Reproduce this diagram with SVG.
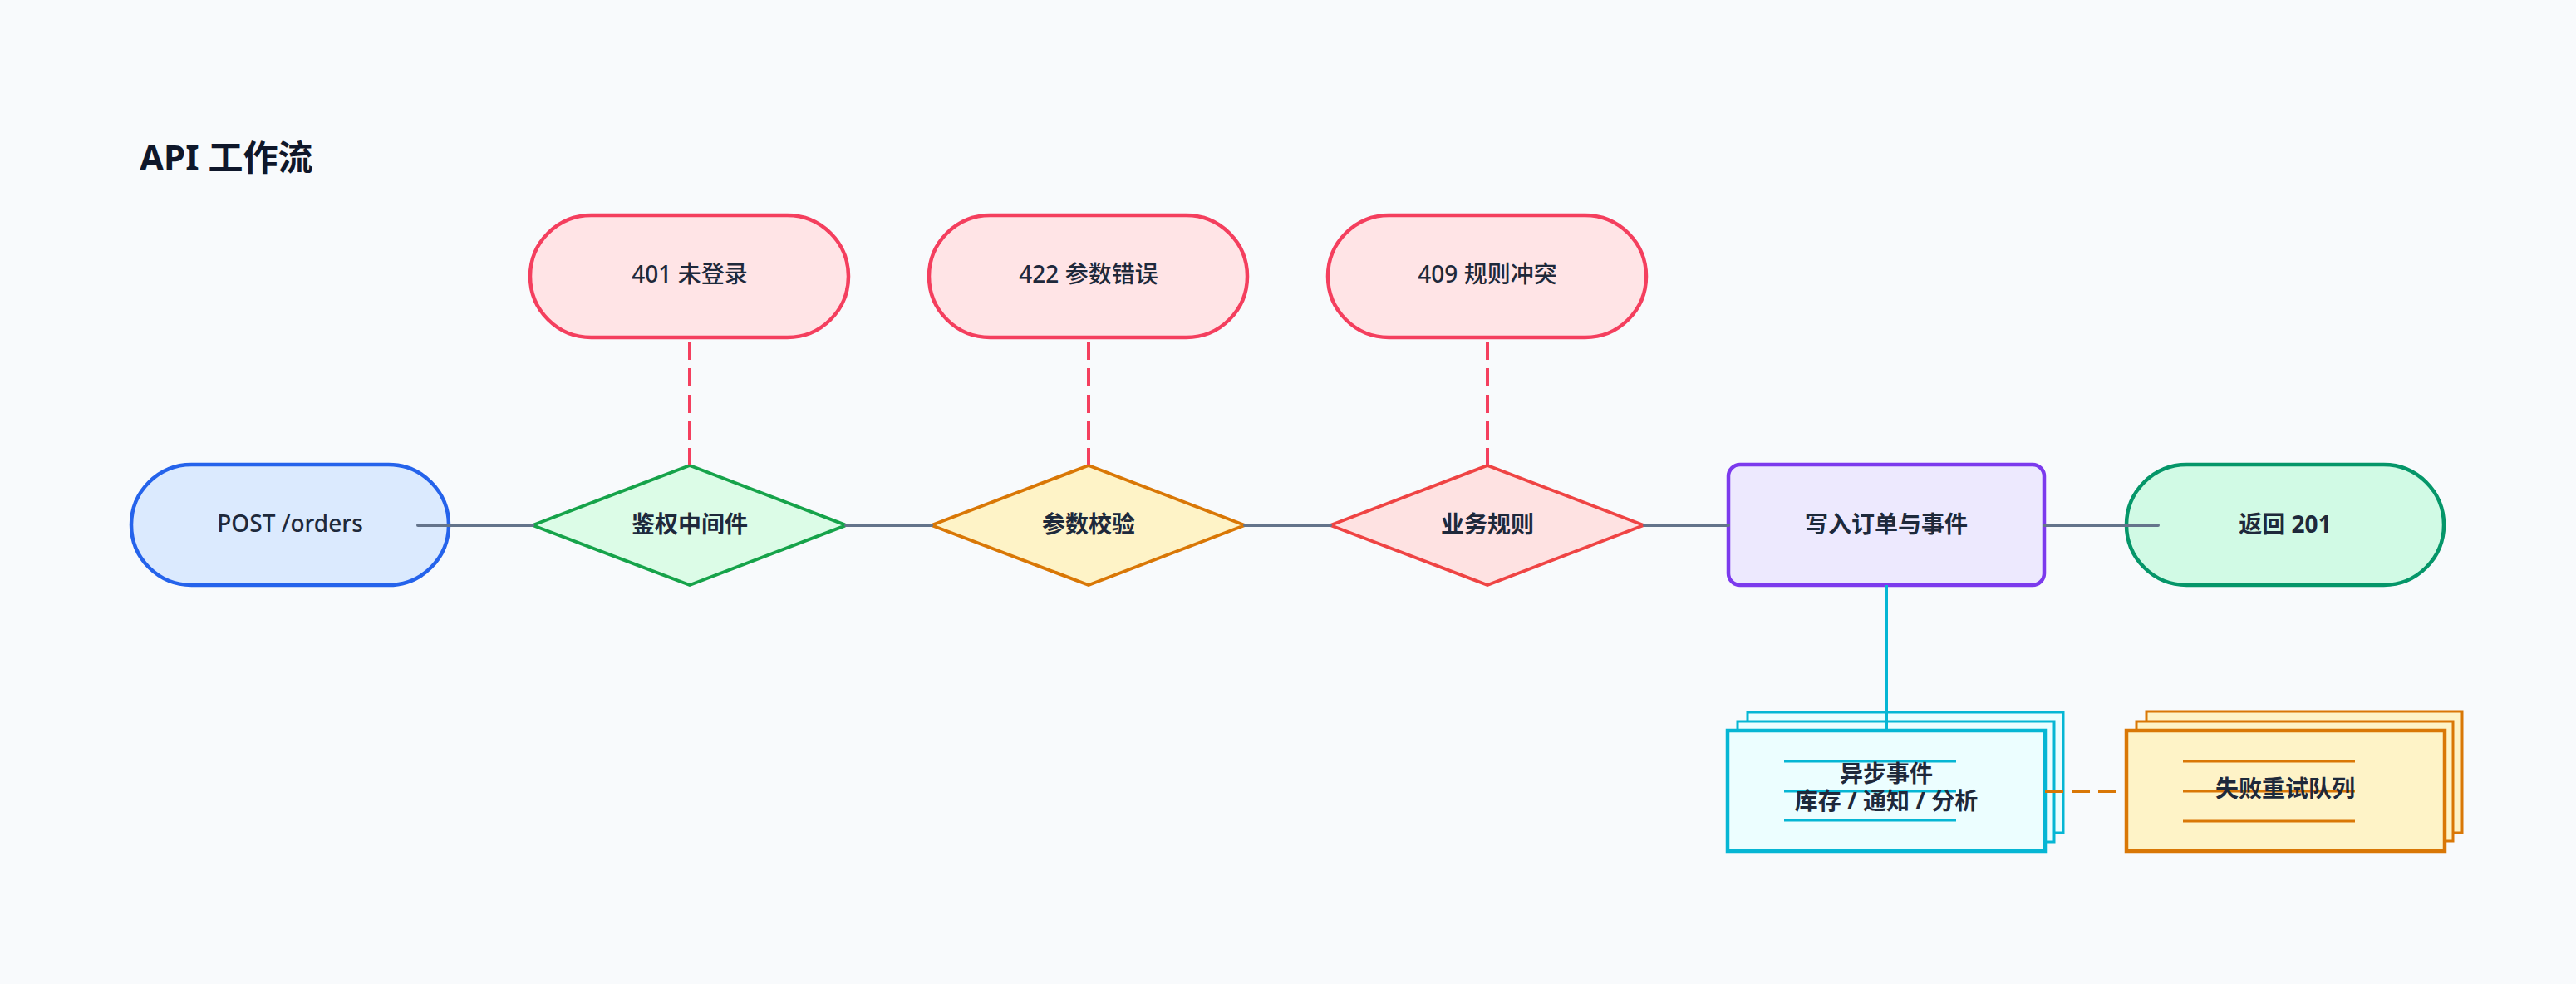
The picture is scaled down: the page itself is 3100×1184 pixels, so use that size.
<svg xmlns="http://www.w3.org/2000/svg" width="3100" height="1184" viewBox="0 0 3100 1184">
<style>
.t{font-family:"Noto Sans","Noto Sans CJK SC",sans-serif;fill:#1e293b;font-size:28px;text-anchor:middle}
.b{font-weight:700}
.m{font-weight:500}
.title{font-family:"Noto Sans","Noto Sans CJK SC",sans-serif;fill:#0f172a;font-size:42px;font-weight:700}
.err{fill:#ffe4e6;stroke:#f43f5e;stroke-width:4.5}
.flow{stroke:#64748b;stroke-width:4;fill:none;stroke-linecap:round}
.dash{stroke-width:4;fill:none;stroke-dasharray:22 10}
</style>
<rect width="3100" height="1184" fill="#f8fafc"/>
<text class="title" x="168" y="205">API 工作流</text>

<g id="post-orders">
  <rect x="158" y="559" width="382" height="145" rx="72.5" fill="#dbeafe" stroke="#2563eb" stroke-width="4.5"/>
  <text class="t m" x="349" y="640">POST /orders</text>
</g>

<g id="auth">
  <polygon points="830,560 1018,632 830,704 641,632" fill="#dcfce7" stroke="#16a34a" stroke-width="4" stroke-linejoin="round"/>
  <text class="t b" x="830" y="641">鉴权中间件</text>
</g>

<g id="params">
  <polygon points="1310,560 1498,632 1310,704 1121,632" fill="#fef3c7" stroke="#d97706" stroke-width="4" stroke-linejoin="round"/>
  <text class="t b" x="1310" y="641">参数校验</text>
</g>

<g id="biz">
  <polygon points="1790,560 1978,632 1790,704 1601,632" fill="#fee2e2" stroke="#ef4444" stroke-width="4" stroke-linejoin="round"/>
  <text class="t b" x="1790" y="641">业务规则</text>
</g>

<g id="write">
  <rect x="2080" y="559" width="380" height="145" rx="14" fill="#ede9fe" stroke="#7c3aed" stroke-width="4.5"/>
  <text class="t b" x="2270" y="641">写入订单与事件</text>
</g>

<g id="return201">
  <rect x="2559" y="559" width="382" height="145" rx="72.5" fill="#d1fae5" stroke="#059669" stroke-width="4.5"/>
  <text class="t b" x="2750" y="641">返回 201</text>
</g>

<g id="err401">
  <rect class="err" x="638" y="259" width="383" height="147" rx="73.5"/>
  <text class="t m" x="830" y="340">401 未登录</text>
</g>

<g id="err422">
  <rect class="err" x="1118" y="259" width="383" height="147" rx="73.5"/>
  <text class="t m" x="1310" y="340">422 参数错误</text>
</g>

<g id="err409">
  <rect class="err" x="1598" y="259" width="383" height="147" rx="73.5"/>
  <text class="t m" x="1790" y="340">409 规则冲突</text>
</g>

<g id="async-events">
  <rect x="2103" y="857" width="380" height="145" fill="#ecfeff" stroke="#06b6d4" stroke-width="3"/>
  <rect x="2091" y="868" width="381" height="145" fill="#ecfeff" stroke="#06b6d4" stroke-width="3"/>
  <rect x="2079" y="879" width="382" height="145" fill="#ecfeff" stroke="#06b6d4" stroke-width="4.5"/>
  <line stroke="#06b6d4" stroke-width="3" x1="2147" y1="916" x2="2354" y2="916"/>
  <line stroke="#06b6d4" stroke-width="3" x1="2147" y1="952" x2="2354" y2="952"/>
  <line stroke="#06b6d4" stroke-width="3" x1="2147" y1="987" x2="2354" y2="987"/>
  <text class="t b" x="2270" y="941" font-size="26">异步事件</text>
  <text class="t b" x="2270" y="974" font-size="26">库存 / 通知 / 分析</text>
</g>

<g id="retry-queue">
  <rect x="2583" y="856" width="380" height="146" fill="#fef3c7" stroke="#d97706" stroke-width="3"/>
  <rect x="2571" y="868" width="381" height="144" fill="#fef3c7" stroke="#d97706" stroke-width="3"/>
  <rect x="2559" y="879" width="383" height="145" fill="#fef3c7" stroke="#d97706" stroke-width="4.5"/>
  <line stroke="#d97706" stroke-width="3" x1="2627" y1="916" x2="2834" y2="916"/>
  <line stroke="#d97706" stroke-width="3" x1="2627" y1="952" x2="2834" y2="952"/>
  <line stroke="#d97706" stroke-width="3" x1="2627" y1="988" x2="2834" y2="988"/>
  <text class="t b" x="2750" y="959" font-size="26">失败重试队列</text>
</g>

<g id="connectors">
  <line class="flow" x1="503" y1="632" x2="641" y2="632"/>
  <line class="flow" x1="1018" y1="632" x2="1121" y2="632"/>
  <line class="flow" x1="1498" y1="632" x2="1601" y2="632"/>
  <line class="flow" x1="1979" y1="632" x2="2080" y2="632"/>
  <line class="flow" x1="2460" y1="632" x2="2597" y2="632"/>
  <line class="dash" stroke="#f43f5e" x1="830" y1="411" x2="830" y2="560"/>
  <line class="dash" stroke="#f43f5e" x1="1310" y1="411" x2="1310" y2="560"/>
  <line class="dash" stroke="#f43f5e" x1="1790" y1="411" x2="1790" y2="560"/>
  <line stroke="#06b6d4" stroke-width="4" x1="2270" y1="704" x2="2270" y2="879"/>
  <line class="dash" stroke="#d97706" x1="2461" y1="952" x2="2559" y2="952"/>
</g>
</svg>
